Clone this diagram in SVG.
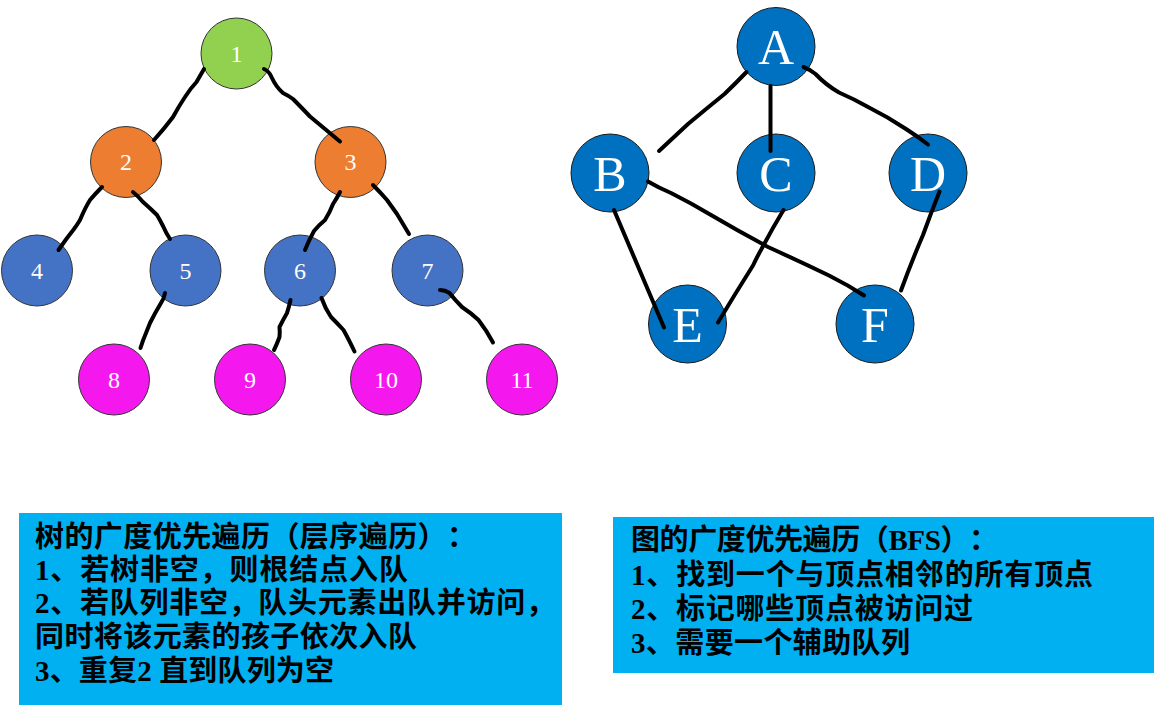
<svg xmlns="http://www.w3.org/2000/svg" width="1154" height="713" viewBox="0 0 1154 713">
<style>
.tn{stroke:#333;stroke-width:1}
.g1{fill:#92D050}.g2{fill:#ED7D31}.g3{fill:#4472C4}.g4{fill:#F418EF}
.gn{fill:#0070C0;stroke:#1a1a1a;stroke-width:1}
.tl{fill:#fff;font-family:"Liberation Serif",serif;font-size:24px;text-anchor:middle}
.gl{fill:#fff;font-family:"Liberation Serif",serif;font-size:50px;text-anchor:middle}
.e{fill:none;stroke:#000;stroke-width:4;stroke-linecap:round;stroke-linejoin:round}
.box{fill:#00B0F0}
.bt{font-family:"Liberation Serif","Noto Sans CJK SC",serif;font-size:29px;font-weight:bold;fill:#000;text-spacing-trim:space-all}
</style>
<rect width="1154" height="713" fill="#fff"/>
<g id="tree">
<g id="n1"><circle class="tn g1" cx="236.5" cy="53.5" r="35.5"/><text class="tl" x="236.5" y="61.5">1</text></g>
<g id="n2"><circle class="tn g2" cx="126" cy="162" r="35.5"/><text class="tl" x="126" y="170">2</text></g>
<g id="n3"><circle class="tn g2" cx="350.5" cy="162" r="35.5"/><text class="tl" x="350.5" y="170">3</text></g>
<g id="n4"><circle class="tn g3" cx="37" cy="270.5" r="35.5"/><text class="tl" x="37" y="278.5">4</text></g>
<g id="n5"><circle class="tn g3" cx="185.5" cy="270.5" r="35.5"/><text class="tl" x="185.5" y="278.5">5</text></g>
<g id="n6"><circle class="tn g3" cx="300" cy="270.5" r="35.5"/><text class="tl" x="300" y="278.5">6</text></g>
<g id="n7"><circle class="tn g3" cx="427.5" cy="270.5" r="35.5"/><text class="tl" x="427.5" y="278.5">7</text></g>
<g id="n8"><circle class="tn g4" cx="114" cy="379.5" r="35.5"/><text class="tl" x="114" y="387.5">8</text></g>
<g id="n9"><circle class="tn g4" cx="250" cy="379.5" r="35.5"/><text class="tl" x="250" y="387.5">9</text></g>
<g id="n10"><circle class="tn g4" cx="386" cy="379.5" r="35.5"/><text class="tl" x="386" y="387.5">10</text></g>
<g id="n11"><circle class="tn g4" cx="522" cy="379.5" r="35.5"/><text class="tl" x="522" y="387.5">11</text></g>
</g>
<g id="graph">
<g id="nA"><circle class="gn" cx="776" cy="46.5" r="39"/><text class="gl" x="776" y="64">A</text></g>
<g id="nB"><circle class="gn" cx="610" cy="173" r="39"/><text class="gl" x="610" y="191">B</text></g>
<g id="nC"><circle class="gn" cx="776" cy="173" r="39"/><text class="gl" x="776" y="191">C</text></g>
<g id="nD"><circle class="gn" cx="928" cy="173" r="39"/><text class="gl" x="928" y="191">D</text></g>
<g id="nE"><circle class="gn" cx="687.5" cy="324" r="39"/><text class="gl" x="687.5" y="342">E</text></g>
<g id="nF"><circle class="gn" cx="875" cy="324" r="39"/><text class="gl" x="875" y="342">F</text></g>
</g>
<g id="connectors">
<path class="e" d="M204,69 Q200,76 196.5,82 Q190,89 185,97 Q179,106 173,117 Q164,129 154,140"/>
<path class="e" d="M264,69 Q269,71 271.5,77 Q276,87 283,93 Q289,96 293,99 Q300,106 310,116.5 Q325,129 340,141.5"/>
<path class="e" d="M102,187 Q95,194 90,200 Q85,208 80,220 Q77,225 74,229 Q66,239 58.5,250"/>
<path class="e" d="M133,192 Q138,196 143,202 Q151,209 157,215 Q160,220 163,226 Q166,233 170,239"/>
<path class="e" d="M340,192 Q337,198 333,204 Q330,212 325,220 Q319,225 314,231 Q309,240 305,250"/>
<path class="e" d="M373,185 Q380,192 387,200 Q392,207 397,214 Q403,224 409,234"/>
<path class="e" d="M165,293 Q164,299 161,303 Q155,313 150,323 Q148,328 146,333 Q143,340 140.5,348"/>
<path class="e" d="M290.5,300 Q289,307 287,313 Q283,320 279.5,327 Q280,332 279.5,337 Q277,344 274,350"/>
<path class="e" d="M321.5,298 Q325,308 331,317 Q337,323 343.5,330 Q348,338 354.5,351.5"/>
<path class="e" d="M440,290 Q445,290 449.5,293 Q455,300 462,307 Q471,313 478.5,320 Q487,331 493,342.5"/>
<path class="e" d="M746.5,72 Q736,83 724.5,94 Q706,109 688,124 Q674,137 659,151"/>
<path class="e" d="M770.5,86 L770.5,151"/>
<path class="e" d="M803.5,67 Q809,69 815.5,74 Q826,85 839,92.5 Q854,99 869,107.5 Q888,117 906,129 Q917,136 928,144.5"/>
<path class="e" d="M614,210 L664,327.5"/>
<path class="e" d="M648,181.5 Q659,188 671,193 Q691,203 711,215 Q740,232 768,247 Q799,261 829,275.5 Q848,285 864,295.5"/>
<path class="e" d="M783.5,210 Q772,229 761.5,249 Q757,257 753,265.5 Q735,294 718,322.5"/>
<path class="e" d="M939.5,191.5 Q931,213 923,235 Q911,263 901,290.5"/>
</g>
<g id="tree-notes">
<rect class="box" x="19" y="513" width="543" height="192"/>
<text class="bt" x="35" y="547" textLength="441" lengthAdjust="spacing">树的广度优先遍历（层序遍历）：</text>
<text class="bt" x="35" y="580" textLength="373" lengthAdjust="spacing">1、若树非空，则根结点入队</text>
<text class="bt" x="35" y="613" textLength="520" lengthAdjust="spacing">2、若队列非空，队头元素出队并访问，</text>
<text class="bt" x="35" y="647" textLength="382" lengthAdjust="spacing">同时将该元素的孩子依次入队</text>
<text class="bt" x="35" y="681" textLength="299" lengthAdjust="spacing">3、重复2 直到队列为空</text>
</g>
<g id="graph-notes">
<rect class="box" x="613" y="517" width="541" height="156"/>
<text class="bt" x="631" y="550" textLength="367" lengthAdjust="spacing">图的广度优先遍历（BFS）：</text>
<text class="bt" x="631" y="585" textLength="462" lengthAdjust="spacing">1、找到一个与顶点相邻的所有顶点</text>
<text class="bt" x="631" y="619" textLength="342" lengthAdjust="spacing">2、标记哪些顶点被访问过</text>
<text class="bt" x="631" y="653" textLength="279" lengthAdjust="spacing">3、需要一个辅助队列</text>
</g>
</svg>
